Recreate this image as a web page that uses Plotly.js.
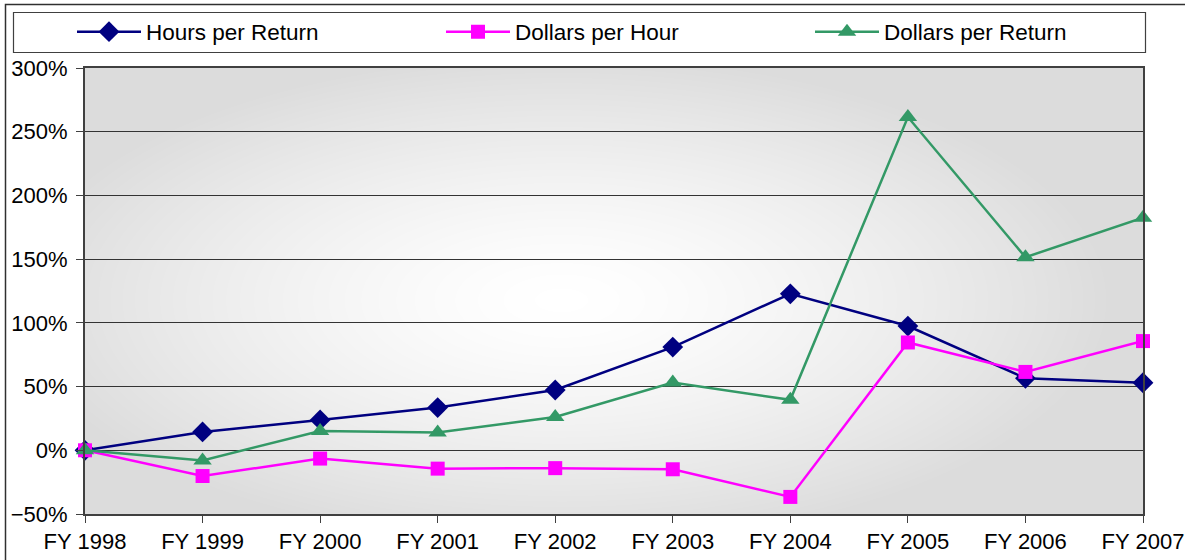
<!DOCTYPE html>
<html>
<head>
<meta charset="utf-8">
<script src="https://cdn.plot.ly/plotly-3.0.1.min.js"></script>
<style>
  html, body { margin: 0; padding: 0; background: #ffffff; }
  #chart { width: 1185px; height: 560px; }
</style>
</head>
<body>
<div id="chart"></div>
<script>
// ---- Data ----
var categories = ['FY 1998', 'FY 1999', 'FY 2000', 'FY 2001', 'FY 2002', 'FY 2003', 'FY 2004', 'FY 2005', 'FY 2006', 'FY 2007'];
var hoursPerReturn = [0, 14.4, 23.8, 33.5, 47.3, 81.0, 122.8, 97.5, 56.5, 53.0];
var dollarsPerHour = [0, -20.2, -6.5, -14.4, -14.0, -14.9, -36.6, 84.6, 61.5, 85.7];
var dollarsPerReturn = [0, -8.0, 15.2, 13.9, 26.1, 53.2, 39.6, 261.5, 151.5, 182.5];
var seriesNames = ['Hours per Return', 'Dollars per Hour', 'Dollars per Return'];

// ---- Gradient background for plot area (Excel "from center" style) ----
function makeGradient() {
  var w = 1058, h = 446;
  var c = document.createElement('canvas');
  c.width = w; c.height = h;
  var ctx = c.getContext('2d');
  var img = ctx.createImageData(w, h);
  var cx = w * 0.45, cy = h * 0.52;
  var rx = w * 0.52, ry = h * 0.55;
  for (var y = 0; y < h; y++) {
    for (var x = 0; x < w; x++) {
      var dx = (x - cx) / rx, dy = (y - cy) / ry;
      var t = Math.sqrt(dx * dx + dy * dy);
      if (t > 1) t = 1;
      var v = Math.round(255 - 35 * Math.pow(t, 1.4));
      var i = (y * w + x) * 4;
      img.data[i] = v; img.data[i + 1] = v; img.data[i + 2] = v; img.data[i + 3] = 255;
    }
  }
  ctx.putImageData(img, 0, 0);
  return c.toDataURL('image/png');
}

var font = 'Liberation Sans, Arial, sans-serif';

var traces = [
  {
    x: categories, y: hoursPerReturn, name: seriesNames[0], type: 'scatter', mode: 'lines+markers',
    line: { color: '#000080', width: 2.5 },
    marker: { symbol: 'diamond', size: 16, color: '#000080' },
    cliponaxis: false
  },
  {
    x: categories, y: dollarsPerHour, name: seriesNames[1], type: 'scatter', mode: 'lines+markers',
    line: { color: '#FF00FF', width: 2.5 },
    marker: { symbol: 'square', size: 14, color: '#FF00FF' },
    cliponaxis: false
  },
  {
    x: categories, y: dollarsPerReturn, name: seriesNames[2], type: 'scatter', mode: 'lines+markers',
    line: { color: '#339966', width: 2.5 },
    marker: { symbol: 'triangle-up', size: 16, color: '#339966' },
    cliponaxis: false
  }
];

var L = 85, R = 42, T = 68, B = 46;
var PW = 1185 - L - R, PH = 560 - T - B;
function px2x(p) { return (p - L) / PW; }
function px2y(p) { return (560 - B - p) / PH; }

var layout = {
  width: 1185, height: 560,
  margin: { l: L, r: R, t: T, b: B, pad: 0, autoexpand: false },
  paper_bgcolor: '#ffffff',
  plot_bgcolor: 'rgba(0,0,0,0)',
  font: { family: font, size: 22, color: '#000000' },
  showlegend: true,
  legend: {
    orientation: 'h',
    x: px2x(72), xanchor: 'left',
    y: px2y(32), yanchor: 'middle',
    bgcolor: 'rgba(0,0,0,0)',
    borderwidth: 0,
    font: { family: font, size: 22.5, color: '#000000' },
    itemwidth: 64,
    entrywidth: 290,
    traceorder: 'normal'
  },
  xaxis: {
    type: 'category',
    range: [0, categories.length - 1],
    showgrid: false,
    zeroline: false,
    showline: true, mirror: true, linecolor: '#404040', linewidth: 2,
    ticks: 'outside', ticklen: 7, tickwidth: 1, tickcolor: '#404040',
    tickfont: { family: font, size: 22, color: '#000000' },
    fixedrange: true
  },
  yaxis: {
    range: [-50, 300],
    tickmode: 'linear', tick0: -50, dtick: 50,
    ticksuffix: '%',
    showgrid: true, gridcolor: '#333333', gridwidth: 1,
    zeroline: false,
    showline: true, mirror: true, linecolor: '#404040', linewidth: 2,
    ticks: 'outside', ticklen: 7, tickwidth: 1, tickcolor: '#404040',
    ticklabelstandoff: 4,
    tickfont: { family: font, size: 22, color: '#000000' },
    fixedrange: true
  },
  images: [{
    source: makeGradient(),
    xref: 'paper', yref: 'paper',
    x: 0, y: 1, sizex: 1, sizey: 1,
    xanchor: 'left', yanchor: 'top',
    sizing: 'stretch', layer: 'below'
  }],
  shapes: [
    // outer chart border
    { type: 'rect', xref: 'paper', yref: 'paper',
      x0: px2x(5.5), x1: px2x(1195), y0: px2y(570), y1: px2y(4.5),
      line: { color: '#303030', width: 1.5 }, fillcolor: 'rgba(0,0,0,0)', layer: 'below' },
    // legend box
    { type: 'rect', xref: 'paper', yref: 'paper',
      x0: px2x(13.5), x1: px2x(1145.5), y0: px2y(52.5), y1: px2y(12.5),
      line: { color: '#404040', width: 1.2 }, fillcolor: '#ffffff', layer: 'below' }
  ]
};

Plotly.newPlot('chart', traces, layout, { displayModeBar: false, staticPlot: true });
</script>
</body>
</html>
